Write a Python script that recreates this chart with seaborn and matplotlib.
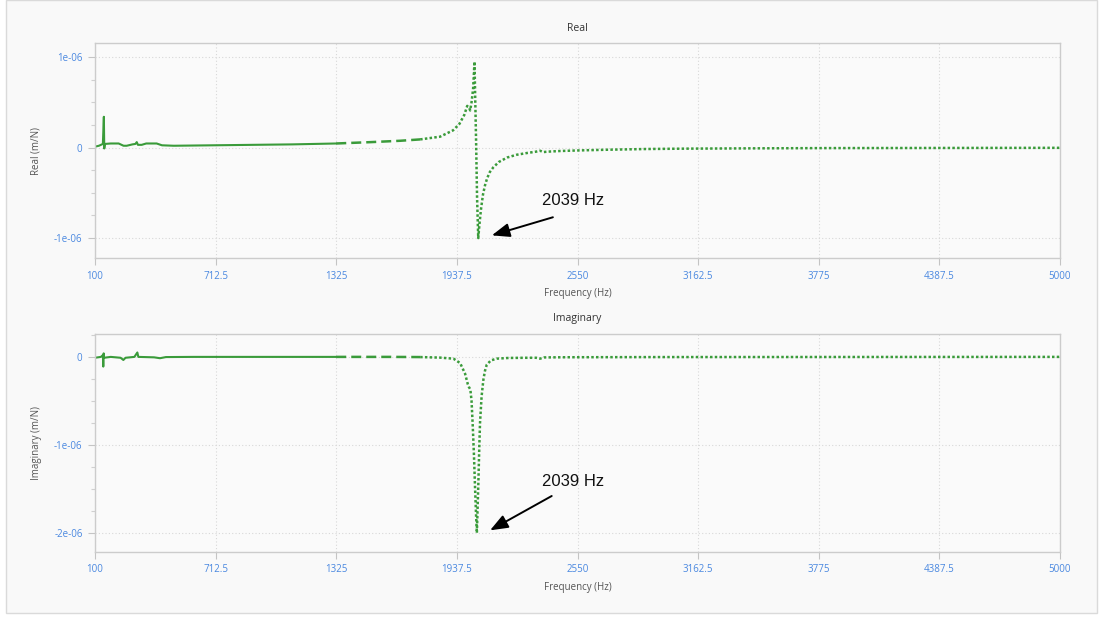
import matplotlib
matplotlib.use("Agg")
import matplotlib.pyplot as plt
from matplotlib.patches import Rectangle
from matplotlib.ticker import FixedLocator, MultipleLocator, FuncFormatter
import seaborn as sns

# Frequency response of the measured structure (receptance, m/N)
real_freq = [100, 120, 140, 145, 147, 150, 180, 220, 245, 261, 290, 305, 312, 318,
             337, 360, 413, 440, 500, 700, 900, 1100, 1325, 1500, 1650, 1751, 1852,
             1918, 1950, 1975, 1990, 2000, 2005, 2012, 2020, 2027, 2031, 2035, 2040,
             2046, 2052, 2060, 2070, 2080, 2091, 2105, 2122, 2150, 2193, 2240, 2294,
             2340, 2360, 2375, 2400, 2462, 2550, 2700, 2900, 3100, 3400, 3800, 4200,
             4600, 5000]
real_vals = [0.01, 0.02, 0.04, 0.34, -0.01, 0.04, 0.045, 0.045, 0.02, 0.02, 0.035,
             0.04, 0.06, 0.03, 0.03, 0.045, 0.045, 0.025, 0.02, 0.025, 0.03, 0.035,
             0.045, 0.06, 0.075, 0.09, 0.12, 0.19, 0.26, 0.36, 0.46, 0.44, 0.41,
             0.50, 0.65, 0.95, 0.50, 0.08, -0.55, -1.0, -0.85, -0.68, -0.52, -0.42,
             -0.34, -0.27, -0.22, -0.16, -0.11, -0.08, -0.06, -0.045, -0.035, -0.05,
             -0.045, -0.038, -0.032, -0.024, -0.016, -0.012, -0.009, -0.006, -0.005,
             -0.004, -0.003]

imag_freq = [100, 130, 140, 142, 144, 146, 180, 230, 244, 255, 300, 315, 320, 400,
             430, 460, 600, 1000, 1325, 1600, 1751, 1850, 1920, 1954, 1979, 1993,
             1998, 2006, 2012, 2018, 2024, 2030, 2035, 2039, 2043, 2047, 2051, 2055,
             2063, 2072, 2080, 2089, 2110, 2140, 2200, 2300, 2340, 2360, 2380, 2500,
             3000, 4000, 5000]
imag_vals = [-0.01, 0.0, 0.02, -0.11, 0.04, -0.01, 0.0, -0.01, -0.035, -0.01, 0.0,
             0.05, 0.0, -0.005, -0.015, -0.002, 0.0, 0.0, 0.0, 0.0, -0.002, -0.008,
             -0.02, -0.07, -0.19, -0.31, -0.34, -0.37, -0.5, -0.78, -1.1, -1.5, -1.8,
             -2.0, -1.7, -1.4, -1.05, -0.75, -0.45, -0.26, -0.16, -0.09, -0.04,
             -0.02, -0.012, -0.01, -0.01, -0.02, -0.006, -0.004, -0.002, -0.001, 0.0]

x_ticks = [100, 712.5, 1325, 1937.5, 2550, 3162.5, 3775, 4387.5, 5000]
resonance_label = "2039 Hz"

SCALE = 1e-6
GREEN = "#3a9b3a"
TICK_BLUE = "#4a88e0"

sns.set_theme(style="white")
plt.rcParams["font.family"] = ["Open Sans", "DejaVu Sans"]

fig = plt.figure(figsize=(11.01, 6.17), dpi=100, facecolor="white")
frame = Rectangle((6 / 1101, 1 - 613 / 617), 1091 / 1101, 613 / 617,
                  transform=fig.transFigure, facecolor="#f9f9f9",
                  edgecolor="#dadada", linewidth=1.0, zorder=-10)
fig.patches.append(frame)

ax_re = fig.add_axes([95 / 1101, 1 - 258 / 617, 965 / 1101, 215 / 617])
ax_im = fig.add_axes([95 / 1101, 1 - 552 / 617, 965 / 1101, 218 / 617])


def sci(v, _pos):
    if abs(v) < 1e-12:
        return "0"
    return f"{v:.0e}"


def draw_segments(ax, freq, vals):
    yv = [v * SCALE for v in vals]
    i1 = freq.index(1325)
    i2 = freq.index(1751)
    common = dict(ax=ax, color=GREEN, estimator=None, legend=False)
    sns.lineplot(x=freq[:i1 + 1], y=yv[:i1 + 1], linewidth=1.5,
                 linestyle="-", **common)
    sns.lineplot(x=freq[i1:i2 + 1], y=yv[i1:i2 + 1], linewidth=1.8,
                 linestyle=(0, (4, 2)), **common)
    sns.lineplot(x=freq[i2:], y=yv[i2:], linewidth=1.8,
                 linestyle=(0, (1, 0.9)), **common)


def style_axes(ax, title, ylabel, ylim, yticks):
    ax.set_facecolor("#fafafa")
    ax.set_xlim(100, 5000)
    ax.set_ylim(*ylim)
    ax.xaxis.set_major_locator(FixedLocator(x_ticks))
    ax.xaxis.set_major_formatter(FuncFormatter(lambda v, p: f"{v:g}"))
    ax.yaxis.set_major_locator(FixedLocator(yticks))
    ax.yaxis.set_minor_locator(MultipleLocator(0.25e-6))
    ax.yaxis.set_major_formatter(FuncFormatter(sci))
    ax.tick_params(axis="both", which="major", direction="out", length=5,
                   width=0.8, color="#c4c4c4", labelsize=7, labelcolor=TICK_BLUE,
                   pad=4)
    ax.tick_params(axis="y", which="minor", direction="out", length=3,
                   width=0.8, color="#d0d0d0", left=True)
    ax.tick_params(axis="x", bottom=True)
    ax.tick_params(axis="y", left=True)
    for sp in ax.spines.values():
        sp.set_color("#cccccc")
        sp.set_linewidth(1.0)
    ax.grid(True, which="major", linestyle=(0, (1, 2)), color="#d8d8d8",
            linewidth=0.8)
    ax.set_title(title, fontsize=7.5, color="#333333", pad=9)
    ax.set_xlabel("Frequency (Hz)", fontsize=7, color="#555555", labelpad=5)
    ax.set_ylabel(ylabel, fontsize=7, color="#555555", labelpad=9)


draw_segments(ax_re, real_freq, real_vals)
draw_segments(ax_im, imag_freq, imag_vals)

style_axes(ax_re, "Real", "Real (m/N)", (-1.22e-6, 1.155e-6), [-1e-6, 0, 1e-6])
style_axes(ax_im, "Imaginary", "Imaginary (m/N)", (-2.216e-6, 0.26e-6),
           [-2e-6, -1e-6, 0])

arrow = dict(arrowstyle="-|>,head_length=0.9,head_width=0.35", color="black",
             lw=1.4, shrinkA=0, shrinkB=0)
ax_re.annotate("", xy=(2115, -0.97e-6), xytext=(2425, -0.77e-6), arrowprops=arrow)
ax_re.text(2525, -0.585e-6, resonance_label, fontsize=12, color="#111111",
           ha="center", va="center", family=["Liberation Sans", "DejaVu Sans"])
ax_im.annotate("", xy=(2106, -1.97e-6), xytext=(2419, -1.58e-6), arrowprops=arrow)
ax_im.text(2526, -1.42e-6, resonance_label, fontsize=12, color="#111111",
           ha="center", va="center", family=["Liberation Sans", "DejaVu Sans"])

fig.savefig("out.png", dpi=100, facecolor=fig.get_facecolor())
